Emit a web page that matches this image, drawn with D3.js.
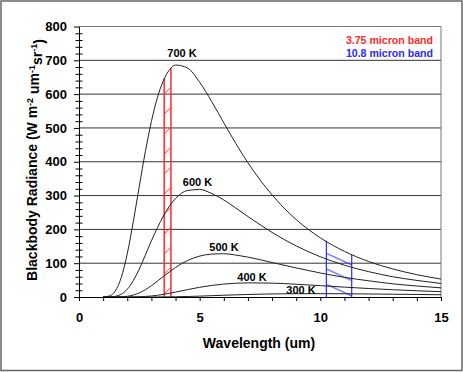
<!DOCTYPE html>
<html>
<head>
<meta charset="utf-8">
<script src="https://cdn.jsdelivr.net/npm/d3@7"></script>
<style>
  body { margin: 0; background: #fff; }
  svg { display: block; font-family: "Liberation Sans", Arial, sans-serif; }
</style>
</head>
<body>
<div id="chart"></div>
<script>
// blackbody curves, values
const width = 463, height = 372;
const margin = {top: 26.5, right: 22, bottom: 75, left: 79};

const wavelength = [1, 1.25, 1.5, 1.75, 2, 2.25, 2.5, 2.75, 3, 3.25, 3.5, 3.75, 4, 4.5, 5, 5.5, 6, 6.5, 7, 8, 9, 10, 11, 12, 13, 14, 15];
const rad700 = [0.1, 2.8, 17.6, 57.5, 128, 223, 328, 430, 519, 590, 640, 672, 686, 677, 635, 578, 515, 454, 397, 302, 229, 175, 135, 105, 83, 66, 53];
const rad600 = [0, 0.2, 1.8, 8.1, 23, 48.6, 83, 124, 166, 205, 240, 269, 291, 315, 318, 306, 287, 263, 238, 191, 151, 119, 94, 75, 60, 49, 40];
const rad500 = [0, 0, 0.1, 0.5, 2.1, 5.8, 12.2, 21.6, 33.5, 46.9, 61, 74.7, 87.4, 108, 121, 127, 128, 124, 118, 102, 86, 71, 58, 48, 39, 32.5, 27];
const rad400 = [0, 0, 0, 0, 0.1, 0.2, 0.7, 1.6, 3, 5.1, 7.8, 11, 14.5, 21.8, 28.7, 34.2, 38.3, 40.7, 41.8, 41, 37.8, 33.6, 29.2, 25.1, 21.5, 18.4, 15.7];
const rad300 = [0, 0, 0, 0, 0, 0, 0, 0, 0.1, 0.1, 0.3, 0.5, 0.7, 1.5, 2.6, 3.9, 5.2, 6.4, 7.5, 9.1, 9.8, 9.9, 9.6, 9, 8.2, 7.5, 6.7];

const curveNames = ["700 K", "600 K", "500 K", "400 K", "300 K"];
const labelX = [4.27, 4.91, 6.01, 7.17, 9.2];
const labelY = [722, 340, 148, 58, 21];

const redBand = [3.53, 3.81];
const redTop = [648, 677];
const blueBand = [10.25, 11.3];
const blueTop = [166, 125];

const legendText = ["3.75 micron band", "10.8 micron band"];
const xTicks = [0, 1, 2, 3, 4, 5, 6, 7, 8, 9, 10, 11, 12, 13, 14, 15];
const yTicks = [0, 100, 200, 300, 400, 500, 600, 700, 800];

const series = [rad700, rad600, rad500, rad400, rad300].map(vals =>
  wavelength.map((w, i) => ({w: w, r: vals[i]})));

const svg = d3.select("#chart")
  .append("svg")
  .attr("width", width)
  .attr("height", height);

// outer frame
svg.append("rect")
  .attr("x", 1).attr("y", 1)
  .attr("width", width - 2).attr("height", height - 2.5)
  .attr("fill", "none").attr("stroke", "#666").attr("stroke-width", 1.5);

const x = d3.scaleLinear().domain([0, 15]).range([margin.left, width - margin.right]);
const y = d3.scaleLinear().domain([0, 800]).range([height - margin.bottom, margin.top]);

// gridlines
svg.append("g")
  .selectAll("line")
  .data(yTicks.slice(1, -1))
  .enter()
  .append("line")
    .attr("x1", x(0)).attr("x2", x(15))
    .attr("y1", d => y(d)).attr("y2", d => y(d))
    .attr("stroke", "#333");

// plot frame top + right
svg.append("path")
  .attr("d", `M${x(0)},${y(800)}H${x(15)}V${y(0)}`)
  .attr("fill", "none").attr("stroke", "#777");

const line = d3.line()
  .x(d => x(d.w))
  .y(d => y(d.r))
  .curve(d3.curveMonotoneX);

// hatch patterns for the bands
const defs = svg.append("defs");
const redPat = defs.append("pattern")
  .attr("id", "redHatch")
  .attr("patternUnits", "userSpaceOnUse")
  .attr("x", x(redBand[0])).attr("y", y(600))
  .attr("width", 20).attr("height", 20);
redPat.append("line")
  .attr("x1", -20).attr("y1", 40).attr("x2", 40).attr("y2", -20)
  .attr("stroke", "#ff2a2a").attr("stroke-width", 1);

const bluePat = defs.append("pattern")
  .attr("id", "blueHatch")
  .attr("patternUnits", "userSpaceOnUse")
  .attr("x", x(blueBand[0])).attr("y", y(129))
  .attr("width", 34).attr("height", 15.5);
bluePat.append("line")
  .attr("x1", -34).attr("y1", -15.5).attr("x2", 68).attr("y2", 31)
  .attr("stroke", "#2a2aff").attr("stroke-width", 1);

const under700 = d3.area()
  .x(d => x(d.w))
  .y0(y(0))
  .y1(d => y(d.r))
  .curve(d3.curveMonotoneX);

defs.append("clipPath").attr("id", "under700")
  .append("path").attr("d", under700(series[0]));

[[redBand, "redHatch", "clipRed"], [blueBand, "blueHatch", "clipBlue"]].forEach(b => {
  defs.append("clipPath").attr("id", b[2])
    .append("rect")
      .attr("x", x(b[0][0])).attr("y", y(800))
      .attr("width", x(b[0][1]) - x(b[0][0]))
      .attr("height", y(0) - y(800));
  svg.append("g").attr("clip-path", `url(#${b[2]})`)
    .append("g").attr("clip-path", "url(#under700)")
    .append("rect")
      .attr("x", x(b[0][0])).attr("y", y(800))
      .attr("width", x(b[0][1]) - x(b[0][0]))
      .attr("height", y(0) - y(800))
      .attr("fill", `url(#${b[1]})`);
});

// band edges
svg.append("g")
  .selectAll("line")
  .data(redBand)
  .enter()
  .append("line")
    .attr("x1", d => x(d)).attr("x2", d => x(d))
    .attr("y1", y(0)).attr("y2", (d, i) => y(redTop[i]))
    .attr("stroke", "#ff2a2a").attr("stroke-width", 1.5);

svg.append("g")
  .selectAll("line")
  .data(blueBand)
  .enter()
  .append("line")
    .attr("x1", d => x(d)).attr("x2", d => x(d))
    .attr("y1", y(0)).attr("y2", (d, i) => y(blueTop[i]))
    .attr("stroke", "#2a2aff").attr("stroke-width", 1.2);

// curves
svg.append("g")
  .selectAll("path")
  .data(series)
  .enter()
  .append("path")
    .attr("d", line)
    .attr("fill", "none")
    .attr("stroke", "#222")
    .attr("stroke-width", 1);

// axes
const yAxis = svg.append("g")
  .attr("transform", `translate(${x(0)},0)`)
  .call(d3.axisLeft(y).tickValues(yTicks).tickSize(5).tickSizeOuter(0).tickPadding(7))
  .attr("font-size", "13px")
  .attr("font-weight", "bold")
  .attr("font-family", "Liberation Sans, Arial, sans-serif");

svg.append("g")
  .attr("transform", `translate(${x(0) + 3.5},0)`)
  .call(d3.axisLeft(y).tickValues(d3.range(20, 800, 20).filter(v => v % 100 !== 0))
    .tickSize(7).tickSizeOuter(0).tickFormat(""))
  .call(g => g.select(".domain").remove());

svg.append("g")
  .attr("transform", `translate(0,${y(0)})`)
  .call(d3.axisBottom(x).tickValues(xTicks).tickSize(4).tickSizeOuter(0).tickPadding(12)
    .tickFormat(d => d % 5 === 0 ? d : ""))
  .attr("font-size", "13px")
  .attr("font-weight", "bold")
  .attr("font-family", "Liberation Sans, Arial, sans-serif");

svg.selectAll(".tick line, .domain").attr("stroke", "#000");
svg.selectAll(".tick text").attr("fill", "#000");

// curve labels
svg.append("g")
  .selectAll("text")
  .data(curveNames)
  .enter()
  .append("text")
    .attr("x", (d, i) => x(labelX[i]))
    .attr("y", (d, i) => y(labelY[i]))
    .attr("dy", "0.35em")
    .attr("text-anchor", "middle")
    .attr("font-size", "11px")
    .attr("font-weight", "bold")
    .text(d => d);

// legend
svg.append("g")
  .selectAll("text")
  .data(legendText)
  .enter()
  .append("text")
    .attr("x", x(14.67))
    .attr("y", (d, i) => y(758 - i * 36))
    .attr("dy", "0.35em")
    .attr("text-anchor", "end")
    .attr("font-size", "10.6px")
    .attr("font-weight", "bold")
    .attr("fill", (d, i) => i === 0 ? "#ff2a2a" : "#2a2aff")
    .text(d => d);

// axis titles
svg.append("text")
  .attr("x", (x(0) + x(15)) / 2 - 1)
  .attr("y", 348)
  .attr("text-anchor", "middle")
  .attr("font-size", "14px")
  .attr("font-weight", "bold")
  .text("Wavelength (um)");

const yTitle = svg.append("text")
  .attr("transform", "translate(37,160) rotate(-90)")
  .attr("text-anchor", "middle")
  .attr("font-size", "14px")
  .attr("font-weight", "bold");
yTitle.append("tspan").text("Blackbody Radiance (W m");
yTitle.append("tspan").attr("dy", "-0.45em").attr("font-size", "9px").text("-2");
yTitle.append("tspan").attr("dy", "0.45em").text(" um");
yTitle.append("tspan").attr("dy", "-0.45em").attr("font-size", "9px").text("-1");
yTitle.append("tspan").attr("dy", "0.45em").text("sr");
yTitle.append("tspan").attr("dy", "-0.45em").attr("font-size", "9px").text("-1");
yTitle.append("tspan").attr("dy", "0.45em").text(")");
</script>
</body>
</html>
